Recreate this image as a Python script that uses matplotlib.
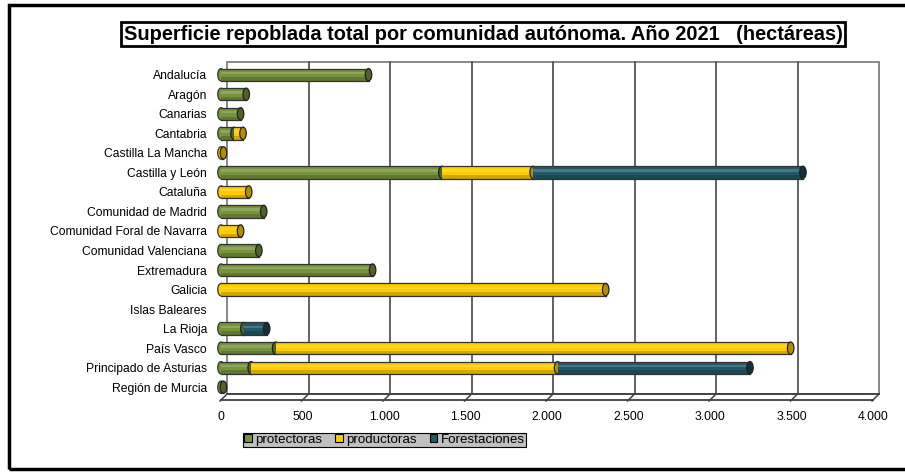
import numpy as np
import matplotlib
matplotlib.use("Agg")
import matplotlib.pyplot as plt
from matplotlib.patches import Ellipse, Rectangle
from matplotlib.transforms import ScaledTranslation
from matplotlib.lines import Line2D

plt.rcParams['font.family'] = ['Liberation Sans', 'DejaVu Sans']

comunidades = ["Andalucía", "Aragón", "Canarias", "Cantabria", "Castilla La Mancha",
               "Castilla y León", "Cataluña", "Comunidad de Madrid",
               "Comunidad Foral de Navarra", "Comunidad Valenciana", "Extremadura",
               "Galicia", "Islas Baleares", "La Rioja", "País Vasco",
               "Principado de Asturias", "Región de Murcia"]
protectoras = [905, 155, 120, 80, 0, 1355, 0, 262, 0, 232, 930, 0, 0, 140, 335, 185, 15]
productoras = [0, 0, 0, 55, 15, 560, 170, 0, 120, 0, 0, 2360, 0, 0, 3160, 1880, 0]
forestaciones = [0, 0, 0, 0, 0, 1655, 0, 0, 0, 0, 0, 0, 0, 140, 0, 1180, 0]

series = [("protectoras", protectoras, "#77933C", "#4F6228"),
          ("productoras", productoras, "#FFCC00", "#B38F00"),
          ("Forestaciones", forestaciones, "#215968", "#10303A")]

W, H = 905, 472
fig = plt.figure(figsize=(W / 100, H / 100), dpi=100)

def px(x0, y0, x1, y1):
    return [x0 / W, 1 - y1 / H, (x1 - x0) / W, (y1 - y0) / H]

# plano frontal del grafico 3d
ax = fig.add_axes(px(221, 65, 873, 397))
n = len(comunidades)
ax.set_xlim(0, 4000)
ax.set_ylim(n - 0.5, -0.5)
for s in ax.spines.values():
    s.set_visible(False)

# pared del fondo y suelo (desplazados 6px derecha, 3px arriba)
off = ScaledTranslation(6 / 100, 3 / 100, fig.dpi_scale_trans)
down = ScaledTranslation(0, -3 / 100, fig.dpi_scale_trans)
ax.add_patch(Rectangle((0, 0), 1, 1, transform=ax.transAxes + off, fill=False,
                       edgecolor="#7f7f7f", lw=1.3, clip_on=False, zorder=0))
xt = np.arange(0, 4001, 500)
for x in xt[1:-1]:
    ax.plot([x, x], [0, 1], transform=ax.get_xaxis_transform() + off,
            color="#555555", lw=1.3, clip_on=False, zorder=0)
ax.plot([0, 1], [0, 0], transform=ax.transAxes + off, color="#404040", lw=1.3,
        clip_on=False, zorder=0)
ax.plot([0, 1], [0, 0], transform=ax.transAxes + down, color="#404040", lw=1.3,
        clip_on=False, zorder=0)

inv = fig.transFigure.inverted()
y_back = (ax.transAxes + off).transform((0, 0))[1]
y_front = (ax.transAxes + down).transform((0, 0))[1]
for x in xt:
    xa = ax.transData.transform((x, 0))[0]
    a = inv.transform((xa + 6, y_back))
    b = inv.transform((xa - 1, y_front - 1))
    fig.add_artist(Line2D([a[0], b[0]], [a[1], b[1]], color="#404040", lw=1.1))

# cilindros
bh = 0.63
cap_w = 40
y = np.arange(n)
left = np.zeros(n)
for k, (name, vals, col, dark) in enumerate(series):
    vals = np.array(vals, dtype=float)
    z = 2 + 5 * k
    for i in range(n):
        if vals[i] <= 0:
            continue
        x0, x1 = left[i], left[i] + vals[i]
        if x0 == 0:
            ax.add_patch(Ellipse((x0, y[i]), cap_w, bh, facecolor=col,
                                 edgecolor="#333333", lw=0.9, zorder=z, clip_on=False))
        ax.add_patch(Rectangle((x0, y[i] - bh / 2), x1 - x0, bh, facecolor=col,
                               edgecolor="none", zorder=z + 1, clip_on=False))
        ax.plot([x0, x1], [y[i] - bh / 2, y[i] - bh / 2], color="#333333", lw=0.9,
                zorder=z + 2, clip_on=False)
        ax.plot([x0, x1], [y[i] + bh / 2, y[i] + bh / 2], color="#333333", lw=0.9,
                zorder=z + 2, clip_on=False)
        ax.add_patch(Rectangle((x0, y[i] - bh * 0.25), x1 - x0, bh * 0.2,
                               facecolor="white", alpha=0.18, edgecolor="none",
                               zorder=z + 2, clip_on=False))
        ax.add_patch(Rectangle((x0, y[i] + bh * 0.22), x1 - x0, bh * 0.28,
                               facecolor="black", alpha=0.18, edgecolor="none",
                               zorder=z + 2, clip_on=False))
        ax.add_patch(Ellipse((x1, y[i]), cap_w, bh, facecolor=dark,
                             edgecolor="#222222", lw=0.9, zorder=z + 3, clip_on=False))
    left = left + vals

ax.set_yticks(y)
ax.set_yticklabels(comunidades, fontsize=8.7)
ax.set_xticks(xt)
ax.set_xticklabels([f"{v:,}".replace(",", ".") for v in xt], fontsize=8.7)
ax.tick_params(axis="y", length=0, pad=10)
ax.tick_params(axis="x", length=0, pad=10)

# titulo
fig.text(483 / W, 1 - 34 / H,
         "Superficie repoblada total por comunidad autónoma. Año 2021   (hectáreas)",
         ha="center", va="center", fontsize=14.4, fontweight="bold",
         bbox=dict(boxstyle="square,pad=0.12", facecolor="white", edgecolor="black", lw=2))

# leyenda
handles = [Rectangle((0, 0), 1, 1, facecolor=c, edgecolor="black", lw=0.8)
           for _, _, c, _ in series]
leg = fig.legend(handles, [s[0] for s in series], loc="center",
                 bbox_to_anchor=((242 + 527) / 2 / W, 1 - 440 / H), ncol=3,
                 fontsize=9.6, frameon=True, fancybox=False, framealpha=1,
                 facecolor="#c0c0c0", edgecolor="black", handlelength=0.55,
                 handleheight=0.55, handletextpad=0.25, columnspacing=1.0,
                 borderpad=0.1, borderaxespad=0)
leg.get_frame().set_linewidth(0.8)

# borde exterior
fig.add_artist(Rectangle((9 / W, 1 - 469 / H), 1.2, (469 - 5) / H,
                         transform=fig.transFigure, fill=False, edgecolor="black", lw=2.5))

fig.savefig("out.png", dpi=100)
